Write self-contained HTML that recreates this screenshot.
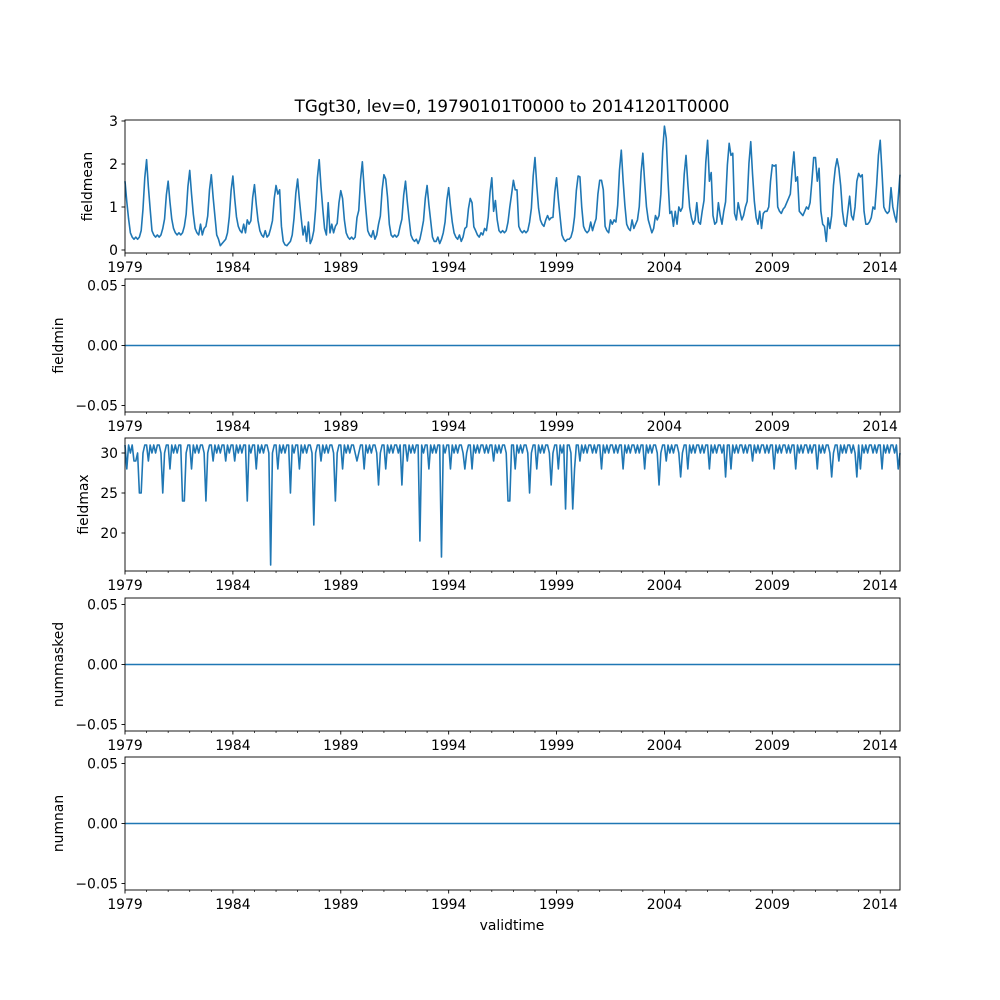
<!DOCTYPE html>
<html><head><meta charset="utf-8"><style>
body{margin:0;background:#fff}
svg{display:block;font-family:"DejaVu Sans","Liberation Sans",sans-serif}
</style></head><body>
<svg id="chart" width="1000" height="1000" viewBox="0 0 1000 1000" xmlns="http://www.w3.org/2000/svg">
<rect width="1000" height="1000" fill="#fff"/>
<text x="512" y="112" font-size="16.7" text-anchor="middle">TGgt30, lev=0, 19790101T0000 to 20141201T0000</text>
<text x="512" y="930" font-size="13.9" text-anchor="middle">validtime</text>
</svg>
<script>
const startYear = 1979;
const yearTickLabels = ["1979","1984","1989","1994","1999","2004","2009","2014"];
const fieldmean = [
1.6,1.12,.72,.4,.3,.25,.3,.25,.3,.45,.95,1.68,
2.1,1.47,.95,.45,.35,.3,.35,.3,.35,.5,.72,1.28,
1.6,1.12,.72,.5,.4,.35,.4,.35,.4,.55,.83,1.48,
1.85,1.3,.83,.5,.4,.35,.6,.35,.5,.55,.79,1.4,
1.75,1.23,.79,.35,.25,.1,.15,.2,.25,.4,.77,1.38,
1.72,1.2,.77,.55,.45,.4,.6,.4,.7,.6,.68,1.22,
1.52,1.06,.68,.45,.35,.3,.45,.3,.35,.5,.68,1.2,
1.5,1.3,1.4,.55,.2,.12,.1,.15,.2,.35,.74,1.32,
1.65,1.16,.74,.35,.55,.2,.65,.15,.25,.45,.95,1.68,
2.1,1.47,.95,.5,.35,1.1,.4,.6,.4,.55,.62,1.1,
1.38,1.2,.7,.4,.3,.25,.3,.25,.3,.75,.92,1.64,
2.05,1.43,.92,.45,.35,.3,.45,.25,.35,.6,.79,1.4,
1.75,1.65,1.23,.6,.35,.3,.35,.3,.35,.55,.72,1.28,
1.6,1.12,.72,.35,.25,.2,.25,.15,.25,.45,.68,1.2,
1.5,1.05,.68,.3,.2,.2,.3,.15,.25,.4,.65,1.16,
1.45,1.02,.65,.4,.3,.25,.35,.2,.3,.5,.54,.96,
1.2,1.1,.54,.45,.35,.3,.4,.35,.5,.45,.76,1.34,
1.68,.9,1.15,.7,.45,.4,.45,.4,.45,.65,1.0,1.3,
1.62,1.4,1.4,.55,.45,.4,.45,.4,.45,.65,.97,1.72,
2.15,1.5,.97,.7,.6,.55,.7,.8,.7,.75,.76,1.34,
1.68,1.18,.76,.35,.25,.2,.25,.25,.3,.45,.77,1.38,
1.72,1.7,1.0,.55,.45,.4,.45,.65,.45,.6,.73,1.3,
1.62,1.62,1.4,.55,.45,.4,.7,.6,.7,.65,1.04,1.86,
2.32,1.62,1.04,.6,.5,.45,.7,.5,.6,.7,1.01,1.8,
2.25,1.58,1.01,.7,.55,.4,.5,.8,.7,.8,1.3,2.3,
2.88,2.6,1.6,.85,.9,.55,.9,.6,1.0,.9,.99,1.76,
2.2,1.54,.99,.75,.6,.7,1.1,.65,.6,.9,1.15,2.04,
2.55,1.6,1.8,.8,.6,.65,1.1,.8,.6,.9,1.12,1.98,
2.48,2.2,2.25,.85,.7,1.1,.9,.7,.8,1.0,1.13,2.02,
2.52,1.76,1.13,.75,.6,.9,.5,.85,.9,.9,1.0,1.6,
1.98,1.95,1.98,1.0,.9,.85,.95,1.0,1.1,1.2,1.3,1.85,
2.28,1.6,1.7,.9,.85,.8,.9,1.0,.95,1.1,1.6,2.15,
2.15,1.6,1.9,.9,.6,.55,.2,.75,.5,.8,1.5,1.9,
2.12,1.9,1.5,.9,.6,.55,.9,1.25,.8,.7,1.0,1.6,
1.78,1.7,1.75,.9,.6,.6,.65,.75,1.0,.95,1.5,2.2,
2.55,1.8,1.0,.9,.85,.9,1.45,1.0,.8,.65,1.2,1.75];
const fieldmax = [
31,28,31,30,31,29,29,30,25,25,30,31,
31,29,31,30,31,30,31,31,30,25,30,31,
31,28,31,30,31,30,31,31,24,24,30,31,
31,28,31,30,31,30,31,31,30,24,30,31,
31,29,31,30,31,30,31,31,29,31,30,31,
31,29,31,30,31,30,31,31,24,31,30,31,
31,28,31,30,31,30,31,31,30,16,30,31,
31,28,31,30,31,30,31,31,25,31,30,31,
31,28,31,30,31,30,31,31,30,21,30,31,
31,29,31,30,31,30,31,31,30,24,30,31,
31,28,31,30,31,30,31,31,30,29,30,31,
31,28,31,30,31,30,31,31,30,26,30,31,
31,28,31,30,31,30,31,31,30,31,26,31,
31,29,31,30,31,30,31,31,19,31,30,31,
31,28,31,30,31,30,31,31,17,31,30,31,
31,28,31,30,31,30,31,31,30,28,30,31,
31,28,31,30,31,30,31,31,30,31,30,31,
31,29,31,30,31,30,31,31,30,24,24,31,
31,28,31,30,31,30,31,31,30,25,30,31,
31,28,31,30,31,30,31,31,30,26,30,31,
31,28,31,30,31,23,31,31,30,23,28,31,
31,29,31,30,31,30,31,31,30,31,30,31,
31,28,31,30,31,30,31,31,30,31,30,31,
31,28,31,30,31,30,31,31,30,31,30,31,
31,28,31,30,31,30,31,31,30,26,30,31,
31,29,31,30,31,30,31,31,30,27,30,31,
31,28,31,30,31,30,31,31,30,31,30,31,
31,28,31,30,31,30,31,31,30,31,27,31,
31,28,31,30,31,30,31,31,30,31,30,31,
31,29,31,30,31,30,31,31,30,31,30,31,
31,28,31,30,31,30,31,31,30,31,30,31,
31,28,31,30,31,30,31,31,30,31,30,31,
31,28,31,30,31,30,31,31,30,27,30,31,
31,29,31,30,31,30,31,31,30,31,30,27,
31,28,31,30,31,30,31,31,30,31,30,31,
31,28,31,30,31,30,31,31,30,31,28,30];
const zeroSeries = new Array(fieldmean.length).fill(0);
const meanTicks = [0,1,2,3];
const maxTicks = [20,25,30];
const zeroTicks = [-0.05,0,0.05];
const zeroTickLabels = ["\u22120.05","0.00","0.05"];

const NS = "http://www.w3.org/2000/svg";
const svg = document.getElementById('chart');
const L = 125, R = 900, H = 133;
const nPts = fieldmean.length;
function xScale(i){ return L + i * (R - L) / (nPts - 1); }
function mk(tag, attrs){ const e = document.createElementNS(NS, tag); for (const k in attrs) e.setAttribute(k, attrs[k]); svg.appendChild(e); return e; }

const panels = [
 {name:'fieldmean', top:120, data:fieldmean, ymin:-0.07, ymax:3.023, ticks:meanTicks, labels:meanTicks.map(String), lx:92},
 {name:'fieldmin', top:279, data:zeroSeries, ymin:-0.0554, ymax:0.0554, ticks:zeroTicks, labels:zeroTickLabels, lx:63},
 {name:'fieldmax', top:438, data:fieldmax, ymin:15.25, ymax:31.875, ticks:maxTicks, labels:maxTicks.map(String), lx:88},
 {name:'nummasked', top:598, data:zeroSeries, ymin:-0.0554, ymax:0.0554, ticks:zeroTicks, labels:zeroTickLabels, lx:63},
 {name:'numnan', top:757, data:zeroSeries, ymin:-0.0554, ymax:0.0554, ticks:zeroTicks, labels:zeroTickLabels, lx:63}
];

panels.forEach(p => {
  const yS = v => p.top + H - (v - p.ymin) / (p.ymax - p.ymin) * H;
  let d = '';
  p.data.forEach((v,i) => { d += (i ? 'L' : 'M') + xScale(i).toFixed(2) + ',' + yS(v).toFixed(2); });
  const line = mk('path', {d:d, fill:'none', stroke:'#1f77b4', 'stroke-width':1.6, 'stroke-linejoin':'round'});
  
  
  const frame = mk('rect', {x:L, y:p.top, width:R-L, height:H, fill:'none', stroke:'#000', 'stroke-width':0.9});
  
  
  p.ticks.forEach((t,k) => {
    const y = yS(t);
    const tk = mk('line', {x1:L-3.5, x2:L, y1:y, y2:y, stroke:'#000', 'stroke-width':0.9});
    
    
    const tl = mk('text', {x:L-7, y:y+5, 'font-size':13.9, 'text-anchor':'end'});
    tl.textContent = p.labels[k];
    
    
  });
  const yl = mk('text', {x:p.lx, y:p.top + H/2, 'font-size':13.9, 'text-anchor':'middle', transform:'rotate(-90 ' + p.lx + ' ' + (p.top + H/2) + ')'});
  yl.textContent = p.name;
  
  
  const bottom = p.top + H;
  for (let yr = 0; yr * 12 < nPts; yr++) {
    const x = xScale(yr * 12);
    const major = yr % 5 === 0;
    const t = mk('line', {x1:x, x2:x, y1:bottom, y2:bottom + (major ? 3.5 : 2), stroke:'#000', 'stroke-width':major ? 0.9 : 0.7});
    
    
    if (major) {
      const lbl = mk('text', {x:x, y:bottom + 19, 'font-size':13.9, 'text-anchor':'middle'});
      lbl.textContent = yearTickLabels[yr / 5];
      
      
    }
  }
});
</script>
</body></html>
